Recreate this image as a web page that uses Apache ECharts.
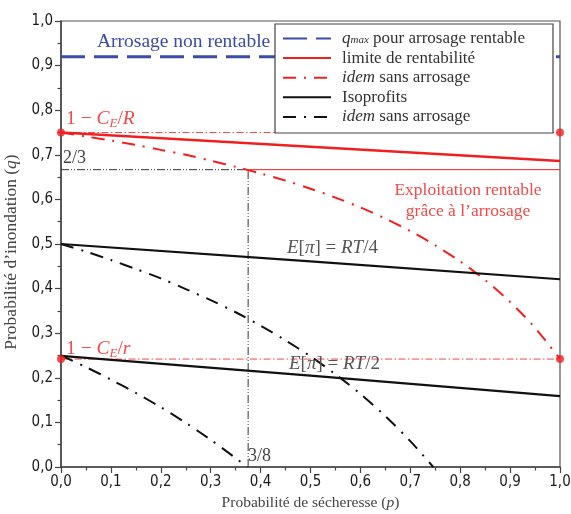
<!DOCTYPE html>
<html><head><meta charset="utf-8">
<script src="https://cdn.jsdelivr.net/npm/echarts@6/dist/echarts.min.js"></script>
<style>html,body{margin:0;padding:0;background:#fff}#c{width:571px;height:514px}</style>
</head><body><div id="c"></div>
<script>
// ---- data ----
const pSans = [0, 0.05, 0.1, 0.15, 0.2, 0.25, 0.3, 0.35, 0.4, 0.45, 0.5, 0.55, 0.6, 0.65, 0.7, 0.75, 0.8, 0.85, 0.9, 0.95, 1.0];
const qLimitSans = [0.750, 0.741, 0.732, 0.722, 0.711, 0.700, 0.687, 0.673, 0.658, 0.642, 0.624, 0.604, 0.582, 0.557, 0.529, 0.497, 0.461, 0.419, 0.370, 0.312, 0.242];
const pLine = [0, 0.5, 1];
const qLimitIrr = [0.750, 0.718, 0.686];
const qIso4Irr = [0.500, 0.461, 0.421];
const qIso2Irr = [0.249, 0.205, 0.159];
const pIso4Sans = [0, 0.05, 0.1, 0.15, 0.2, 0.25, 0.3, 0.35, 0.4, 0.45, 0.5, 0.55, 0.6, 0.65, 0.7, 0.746];
const qIso4Sans = [0.500, 0.483, 0.464, 0.444, 0.423, 0.399, 0.374, 0.347, 0.317, 0.284, 0.248, 0.208, 0.164, 0.114, 0.058, 0];
const pIso2Sans = [0, 0.05, 0.1, 0.15, 0.2, 0.25, 0.3, 0.35, 0.373];
const qIso2Sans = [0.250, 0.224, 0.196, 0.166, 0.134, 0.099, 0.061, 0.020, 0];
const qMax = 0.92;
const qCER = 0.75;      // 1 - C_E/R
const qCEr = 0.242;     // 1 - C_E/r
const qTwoThirds = 2 / 3;
const pThreeEighths = 0.375;
const axisTicks = [0, 0.1, 0.2, 0.3, 0.4, 0.5, 0.6, 0.7, 0.8, 0.9, 1.0];
const legendLabels = {
  qmax: '{i|q}{s|max} pour arrosage rentable',
  limite: 'limite de rentabilité',
  limiteSans: '{i|idem} sans arrosage',
  iso: 'Isoprofits',
  isoSans: '{i|idem} sans arrosage'
};

const zip = (xs, ys) => xs.map((x, i) => [x, ys[i]]);
const RED = '#f02020', LRED = '#f24a4a', BLUE = '#3a4ca8', BLK = '#111', GRAY = '#555';
const SERIF = "'Liberation Serif', 'DejaVu Serif', serif";
const NARROW = "'Liberation Sans Narrow', 'DejaVu Sans Condensed', sans-serif";

const chart = echarts.init(document.getElementById('c'), null, {renderer: 'canvas'});
const fmt = v => v.toFixed(1).replace('.', ',');
const axisCommon = {
  type: 'value', min: axisTicks[0], max: axisTicks[axisTicks.length - 1], interval: 0.1,
  axisLine: {show: true, lineStyle: {color: '#444', width: 1.5}},
  axisTick: {show: true, length: 6, inside: false, lineStyle: {color: '#444', width: 1.2}},
  minorTick: {show: true, splitNumber: 2, length: 3.5, lineStyle: {color: '#444', width: 1.2}},
  splitLine: {show: false},
  axisLabel: {formatter: fmt, fontFamily: NARROW, fontSize: 15, color: '#1a1a1a', margin: 8},
  nameLocation: 'middle'
};
const nameStyle = size => ({fontFamily: SERIF, fontSize: size, color: '#444',
    rich: {i: {fontFamily: SERIF, fontSize: size, fontStyle: 'italic', color: '#444'}}});

const mathRich = (color, size) => ({
  n: {fontFamily: SERIF, fontSize: size, color: color, lineHeight: 22},
  i: {fontFamily: SERIF, fontSize: size, fontStyle: 'italic', color: color, lineHeight: 22},
  s: {fontFamily: SERIF, fontSize: Math.round(size * 0.65), fontStyle: 'italic', color: color, lineHeight: 13, verticalAlign: 'bottom'}
});

const txt = (x, y, text, color, size, align) => ({
  type: 'text', x: x, y: y, z: 10,
  style: {text: text, fill: color, fontFamily: SERIF, fontSize: size, align: align || 'left',
          verticalAlign: 'middle', rich: mathRich(color, size)}
});

chart.setOption({
  animation: false,
  grid: {left: 61, right: 11, top: 21, bottom: 47, show: true, borderColor: '#555', borderWidth: 1.2,
         backgroundColor: 'transparent', outerBoundsMode: 'none', containLabel: false},
  xAxis: Object.assign({}, axisCommon, {name: 'Probabilité de sécheresse ({i|p})', nameGap: 25,
         nameTextStyle: nameStyle(15.5)}),
  yAxis: Object.assign({}, axisCommon, {name: 'Probabilité d’inondation ({i|q})', nameGap: 36,
         nameTextStyle: Object.assign(nameStyle(17.5), {padding: [0, 16, 0, 0]})}),
  legend: {
    data: ['qmax', 'limite', 'limiteSans', 'iso', 'isoSans'],
    orient: 'vertical', left: 282, top: 30, itemWidth: 48, itemHeight: 14, itemGap: 2.6,
    padding: 0, z: 6,
    itemStyle: {opacity: 0},
    formatter: n => legendLabels[n],
    textStyle: {fontFamily: SERIF, fontSize: 17, color: '#333', padding: [0, 0, 0, 6], lineHeight: 14,
      rich: {i: {fontFamily: SERIF, fontSize: 17, fontStyle: 'italic', color: '#333', lineHeight: 14},
             s: {fontFamily: SERIF, fontSize: 11, fontStyle: 'italic', color: '#333', verticalAlign: 'bottom', lineHeight: 8}}}
  },
  graphic: [
    {type: 'rect', z: 5, shape: {x: 275, y: 24, width: 278, height: 109},
     style: {fill: '#fff', stroke: '#444', lineWidth: 1.2}},
    txt(97, 42, 'Arrosage non rentable', BLUE, 19.5),
    txt(66, 119, '{n|1 − }{i|C}{s|E}{n|/}{i|R}', LRED, 19.5),
    txt(63, 158, '2/3', '#444', 18),
    txt(468, 190, 'Exploitation rentable', LRED, 17.5, 'center'),
    txt(468, 211, 'grâce à l’arrosage', LRED, 17.5, 'center'),
    txt(287, 248, '{i|E}{n|[}{i|π}{n|] = }{i|RT}{n|/4}', GRAY, 19),
    txt(66, 349, '{n|1 − }{i|C}{s|E}{n|/}{i|r}', LRED, 19.5),
    txt(289, 364, '{i|E}{n|[}{i|π}{n|] = }{i|RT}{n|/2}', GRAY, 19),
    txt(248, 456, '3/8', '#444', 18)
  ],
  series: [
    {name: 'qmax', type: 'line', symbol: 'none', data: zip([0, 1], [qMax, qMax]),
     lineStyle: {color: BLUE, width: 3, type: [24, 9]}, z: 3},
    {name: 'refCER', type: 'line', symbol: 'none', data: zip([0, 1], [qCER, qCER]),
     lineStyle: {color: LRED, width: 1, type: [7, 2.5, 1.5, 2.5]}, z: 2},
    {name: 'refCEr', type: 'line', symbol: 'none', data: zip([0, 1], [qCEr, qCEr]),
     lineStyle: {color: LRED, width: 1, type: [7, 2.5, 1.5, 2.5]}, z: 2},
    {name: 'ref23a', type: 'line', symbol: 'none', data: zip([0, pThreeEighths], [qTwoThirds, qTwoThirds]),
     lineStyle: {color: '#333', width: 1, type: [8, 2, 1, 2, 1, 2]}, z: 2},
    {name: 'ref23b', type: 'line', symbol: 'none', data: zip([pThreeEighths, 1], [qTwoThirds, qTwoThirds]),
     lineStyle: {color: RED, width: 1}, z: 2},
    {name: 'ref38', type: 'line', symbol: 'none', data: zip([pThreeEighths, pThreeEighths], [0, qTwoThirds]),
     lineStyle: {color: '#333', width: 1, type: [8, 2, 1, 2, 1, 2]}, z: 2},
    {name: 'limite', type: 'line', symbol: 'none', data: zip(pLine, qLimitIrr),
     lineStyle: {color: RED, width: 2.5}, z: 3},
    {name: 'limiteSans', type: 'line', symbol: 'none', smooth: 0.3, data: zip(pSans, qLimitSans),
     lineStyle: {color: RED, width: 2, type: [13, 8, 2, 8]}, z: 3},
    {name: 'iso', type: 'line', symbol: 'none', data: zip(pLine, qIso4Irr),
     lineStyle: {color: BLK, width: 2.2}, z: 3},
    {name: 'iso2', type: 'line', symbol: 'none', data: zip(pLine, qIso2Irr),
     lineStyle: {color: BLK, width: 2.2}, z: 3},
    {name: 'isoSans', type: 'line', symbol: 'none', smooth: 0.3, data: zip(pIso4Sans, qIso4Sans),
     lineStyle: {color: BLK, width: 2, type: [13, 8, 2, 8]}, z: 3},
    {name: 'isoSans2', type: 'line', symbol: 'none', smooth: 0.3, data: zip(pIso2Sans, qIso2Sans),
     lineStyle: {color: BLK, width: 2, type: [13, 8, 2, 8]}, z: 3},
    {name: 'markers', type: 'scatter', symbol: 'circle', symbolSize: 8, clip: false,
     data: zip([0, 1, 0, 1], [qCER, qCER, qCEr, qCEr]), itemStyle: {color: RED}, z: 4}
  ]
});
</script></body></html>
